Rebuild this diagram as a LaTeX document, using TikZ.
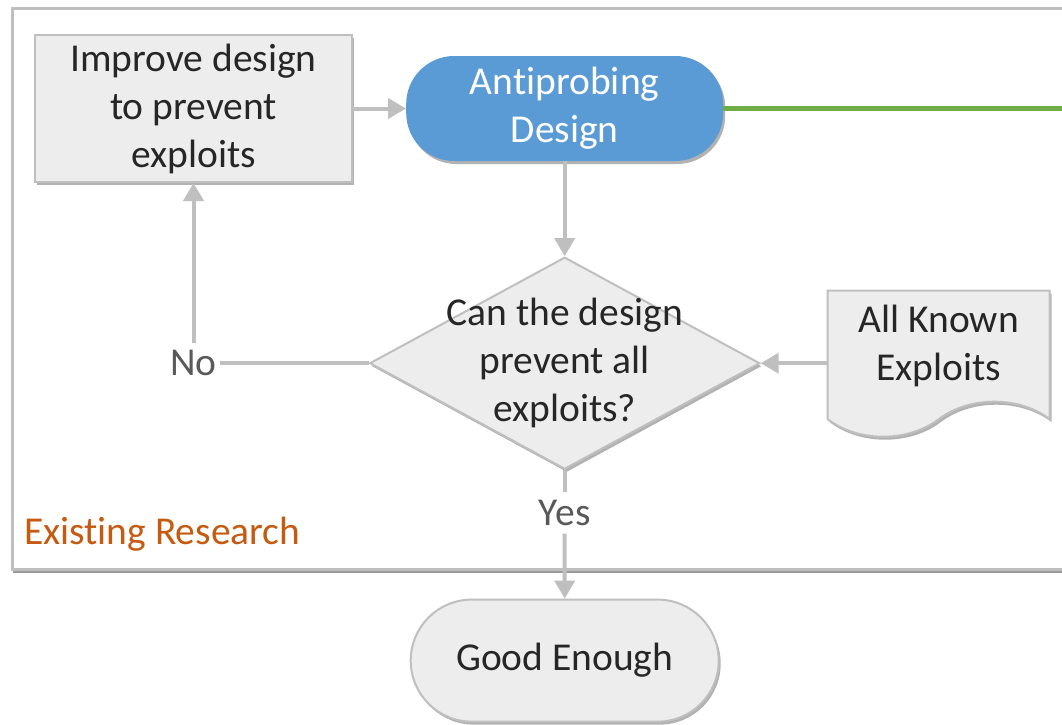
\documentclass[tikz,border=0pt]{standalone}
\usepackage{fontspec}
\setmainfont{Carlito}[Ligatures={NoCommon}]
\usetikzlibrary{arrows.meta, positioning, shapes.geometric, shapes.misc, shapes.symbols, shadows}

\definecolor{linegray}{HTML}{BFBFBF}
\definecolor{boxfill}{HTML}{EDEDED}
\definecolor{darktext}{HTML}{262626}
\definecolor{labeltext}{HTML}{595959}
\definecolor{designblue}{HTML}{5B9BD5}
\definecolor{greenline}{HTML}{70AD47}
\definecolor{researchorange}{HTML}{C55A11}

\begin{document}
\begin{tikzpicture}[
    x=1pt, y=-1pt,
    every node/.style={font=\fontsize{39.5}{48}\selectfont, text=darktext},
    shade/.style={drop shadow={shadow xshift=2pt, shadow yshift=-3pt, opacity=0.3, fill=black}},
    frame/.style={draw=linegray, line width=2.5pt, fill=white, drop shadow={shadow xshift=1pt, shadow yshift=-4pt, opacity=0.4, fill=black}},
    box/.style={draw=linegray, line width=2pt, fill=boxfill, align=center, inner sep=0pt, shade},
    design/.style={fill=designblue, text=white, rounded corners=48pt, align=center, inner sep=0pt, shade, minimum width=317pt, minimum height=105pt},
    decision/.style={box, diamond, minimum width=390pt, minimum height=212pt},
    doc/.style={box, tape, tape bend top=none, tape bend bottom=in and out, tape bend height=35pt, minimum width=222pt, minimum height=146pt},
    terminal/.style={box, rounded rectangle, minimum width=308pt, minimum height=122pt},
    lbl/.style={text=labeltext, inner xsep=3pt, inner ysep=0pt, minimum height=41pt},
    link/.style={draw=linegray, line width=4pt},
    flow/.style={link, -{Triangle[length=18pt, width=20pt]}},
    greenlink/.style={draw=greenline, line width=4.5pt}
]
\useasboundingbox (0,0) rectangle (1062,724);

% region of existing work
\node[frame, anchor=north west, minimum width=1080pt, minimum height=561pt] (research) at (11,7) {};
\node[anchor=west, text=researchorange, inner sep=0pt] (existing) at ([shift={(13,-36)}]research.south west) {Existing Research};

% flow
\node[box, minimum width=317pt, minimum height=147pt] (improve) at (193.5,108.5) {Improve design\\to prevent\\exploits};
\node[design, right=53pt of improve] (design) {Antiprobing\\Design};
\node[decision, below=95pt of design, label={[align=center, text=darktext]center:Can the design\\prevent all\\exploits?}] (check) {};
\node[doc, right=66pt of check, yshift=17pt] (exploits) {All Known\\Exploits};
\node[lbl] (no) at (improve |- check) {No};
\node[lbl, below=22pt of check] (yes) {Yes};
\node[terminal, below=65pt of yes] (good) {Good Enough};

\draw[flow] (improve) -- (design);
\draw[flow] (design) -- (check);
\draw[flow] (exploits.west |- check) -- (check);
\draw[link] (check) -- (no);
\draw[flow] (no) -- (improve);
\draw[link] (check) -- (yes);
\draw[flow] (yes) -- (good);
\draw[greenlink] (design) -- (design -| research.east);
\end{tikzpicture}
\end{document}
